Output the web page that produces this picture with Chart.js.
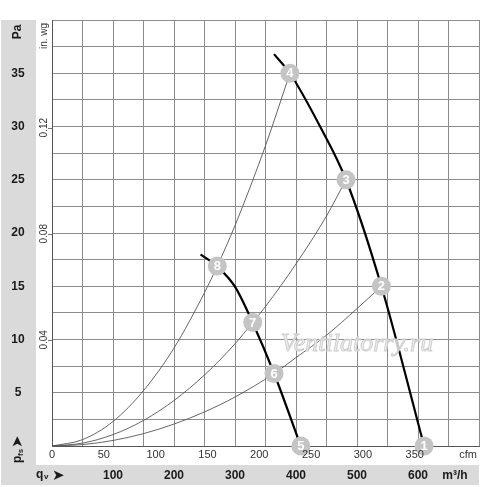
<!DOCTYPE html>
<html>
<head>
<meta charset="utf-8">
<script src="https://cdn.jsdelivr.net/npm/chart.js@4.4.0/dist/chart.umd.min.js"></script>
<style>
  body { margin: 0; background: #fff; }
  canvas { display: block; }
</style>
</head>
<body>
<canvas id="fan_chart" width="500" height="487"></canvas>
<script>
// tick labels
const m3hTicks = [100, 200, 300, 400, 500, 600];
const cfmTicks = [0, 50, 100, 150, 200, 250, 300, 350];
const paTicks = [5, 10, 15, 20, 25, 30, 35];
const inwgTicks = [0.04, 0.08, 0.12];

// fan curves (qv in m3/h, pfs in Pa)
const fanHighQ = [364, 390, 439.5, 482, 540, 610];
const fanHighP = [36.8, 35.0, 30.0, 25.0, 15.0, 0];
const fanLowQ = [243.6, 270.9, 299.9, 329, 364, 407.8];
const fanLowP = [18.0, 16.84, 14.96, 11.58, 6.83, 0];

// system curves
const sysAQ = [0, 50, 100, 150, 200, 250, 271, 300, 350, 390];
const sysAP = [0, 0.6, 2.3, 5.2, 9.2, 14.4, 16.9, 20.7, 28.2, 35.0];
const sysBQ = [0, 50, 100, 150, 200, 250, 300, 329, 350, 400, 450, 482];
const sysBP = [0, 0.27, 1.07, 2.4, 4.27, 6.67, 9.6, 11.6, 13.1, 17.1, 21.6, 25.0];
const sysCQ = [0, 50, 100, 150, 200, 250, 300, 364, 400, 450, 500, 540];
const sysCP = [0, 0.13, 0.52, 1.16, 2.06, 3.2, 4.6, 6.8, 8.3, 10.4, 12.9, 15.0];

// numbered operating points
const pointNames = ['1', '2', '3', '4', '5', '6', '7', '8'];
const pointQ = [610, 540, 482, 390, 408, 364, 329, 271];
const pointP = [0, 15.0, 25.0, 35.0, 0, 6.8, 11.6, 16.9];

const CFM_TO_M3H = 1.69901;
const INWG_TO_PA = 249.089;

function toXY(qs, ps) {
    return qs.map((q, i) => ({ x: q, y: ps[i] }));
}

const FONT = '"Liberation Sans", Arial, sans-serif';

const bandsPlugin = {
    id: 'bands',
    beforeDraw(chart) {
        const ctx = chart.ctx;
        ctx.save();
        ctx.fillStyle = '#ffffff';
        ctx.fillRect(0, 0, chart.width, chart.height);
        ctx.fillStyle = '#dadada';
        ctx.fillRect(1, 20, 35, 465);
        ctx.fillRect(1, 465, 478, 20);
        ctx.restore();
    },
    afterDatasetsDraw(chart) {
        const ctx = chart.ctx;
        const meta = chart.getDatasetMeta(0);
        ctx.save();
        // watermark
        ctx.font = 'italic 26px "Liberation Serif", serif';
        ctx.textAlign = 'center';
        ctx.textBaseline = 'middle';
        ctx.fillStyle = 'rgba(235,235,235,0.85)';
        ctx.strokeStyle = '#cfcfcf';
        ctx.lineWidth = 1;
        ctx.fillText('Ventilatorry.ru', 357, 344);
        ctx.strokeText('Ventilatorry.ru', 357, 344);
        // numbers in the grey dots
        ctx.font = 'bold 13px ' + FONT;
        ctx.fillStyle = '#ffffff';
        meta.data.forEach((el, i) => {
            ctx.fillText(pointNames[i], el.x, el.y + 0.5);
        });
        ctx.restore();
    },
    afterDraw(chart) {
        const ctx = chart.ctx;
        const xs = chart.scales.x;
        const ys = chart.scales.y;
        ctx.save();
        ctx.textAlign = 'center';
        ctx.textBaseline = 'middle';

        // Pa labels
        ctx.fillStyle = '#1a1a1a';
        ctx.font = 'bold 12px ' + FONT;
        paTicks.forEach(v => ctx.fillText(String(v), 18, ys.getPixelForValue(v)));

        // m3/h labels
        m3hTicks.forEach(v => ctx.fillText(String(v), xs.getPixelForValue(v), 476));
        ctx.fillText('m³/h', 455, 476);

        // cfm labels
        ctx.font = '11px ' + FONT;
        ctx.fillStyle = '#333';
        cfmTicks.forEach(v => ctx.fillText(String(v), xs.getPixelForValue(v * CFM_TO_M3H), 455));
        ctx.fillText('cfm', 468, 455);

        // in. wg labels, rotated
        ctx.strokeStyle = '#777';
        ctx.lineWidth = 1;
        ctx.font = '10px ' + FONT;
        inwgTicks.forEach(w => {
            const py = ys.getPixelForValue(w * INWG_TO_PA);
            ctx.beginPath();
            ctx.moveTo(48, Math.round(py) + 0.5);
            ctx.lineTo(52, Math.round(py) + 0.5);
            ctx.stroke();
            ctx.save();
            ctx.translate(44, py);
            ctx.rotate(-Math.PI / 2);
            ctx.fillText(w.toFixed(2), 0, 0);
            ctx.restore();
        });
        ctx.save();
        ctx.translate(44, 36);
        ctx.rotate(-Math.PI / 2);
        ctx.fillText('in. wg', 0, 0);
        ctx.restore();

        // Pa title
        ctx.fillStyle = '#1a1a1a';
        ctx.font = 'bold 12px ' + FONT;
        ctx.save();
        ctx.translate(18, 32);
        ctx.rotate(-Math.PI / 2);
        ctx.fillText('Pa', 0, 0);
        ctx.restore();

        // pfs arrow (reads upwards)
        ctx.save();
        ctx.translate(18, 450);
        ctx.rotate(-Math.PI / 2);
        ctx.textAlign = 'left';
        ctx.font = 'bold 12px ' + FONT;
        ctx.fillText('p', -13, 0);
        ctx.font = 'bold 8px ' + FONT;
        ctx.fillText('fs', -6, 3);
        ctx.font = 'bold 15px "DejaVu Sans", sans-serif';
        ctx.fillText('➤', 2, 0);
        ctx.restore();

        // qv arrow
        ctx.textAlign = 'left';
        ctx.font = 'bold 12px ' + FONT;
        ctx.fillText('q', 36, 475);
        ctx.font = 'bold 8px ' + FONT;
        ctx.fillText('v', 44, 477);
        ctx.font = 'bold 15px "DejaVu Sans", sans-serif';
        ctx.fillText('➤', 52, 476);

        ctx.restore();
    }
};

const fanChart = new Chart(document.getElementById('fan_chart'), {
    type: 'scatter',
    data: {
        datasets: [
            {
                data: toXY(pointQ, pointP),
                pointRadius: 9.5,
                pointHoverRadius: 9.5,
                pointBackgroundColor: '#c4c4c4',
                pointBorderWidth: 0,
                showLine: false,
                clip: false,
                order: 0
            },
            {
                data: toXY(fanHighQ, fanHighP),
                showLine: true,
                borderColor: '#000',
                borderWidth: 2.2,
                pointRadius: 0,
                cubicInterpolationMode: 'monotone',
                order: 1
            },
            {
                data: toXY(fanLowQ, fanLowP),
                showLine: true,
                borderColor: '#000',
                borderWidth: 2.2,
                pointRadius: 0,
                cubicInterpolationMode: 'monotone',
                order: 1
            },
            {
                data: toXY(sysAQ, sysAP),
                showLine: true,
                borderColor: '#555',
                borderWidth: 0.9,
                pointRadius: 0,
                cubicInterpolationMode: 'monotone',
                order: 2
            },
            {
                data: toXY(sysBQ, sysBP),
                showLine: true,
                borderColor: '#555',
                borderWidth: 0.9,
                pointRadius: 0,
                cubicInterpolationMode: 'monotone',
                order: 2
            },
            {
                data: toXY(sysCQ, sysCP),
                showLine: true,
                borderColor: '#555',
                borderWidth: 0.9,
                pointRadius: 0,
                cubicInterpolationMode: 'monotone',
                order: 2
            }
        ]
    },
    options: {
        responsive: false,
        animation: false,
        layout: { padding: { left: 52, top: 20, right: 21, bottom: 41 } },
        plugins: { legend: { display: false }, tooltip: { enabled: false } },
        scales: {
            x: {
                type: 'linear',
                min: 0,
                max: 700,
                ticks: { display: false, stepSize: 50 },
                grid: { color: '#8c8c8c', lineWidth: 1, drawTicks: false },
                border: { color: '#555', width: 1 }
            },
            y: {
                min: 0,
                max: 40,
                ticks: { display: false, stepSize: 2.5 },
                grid: { color: '#8c8c8c', lineWidth: 1, drawTicks: false },
                border: { color: '#555', width: 1 }
            }
        }
    },
    plugins: [bandsPlugin]
});
</script>
</body>
</html>
